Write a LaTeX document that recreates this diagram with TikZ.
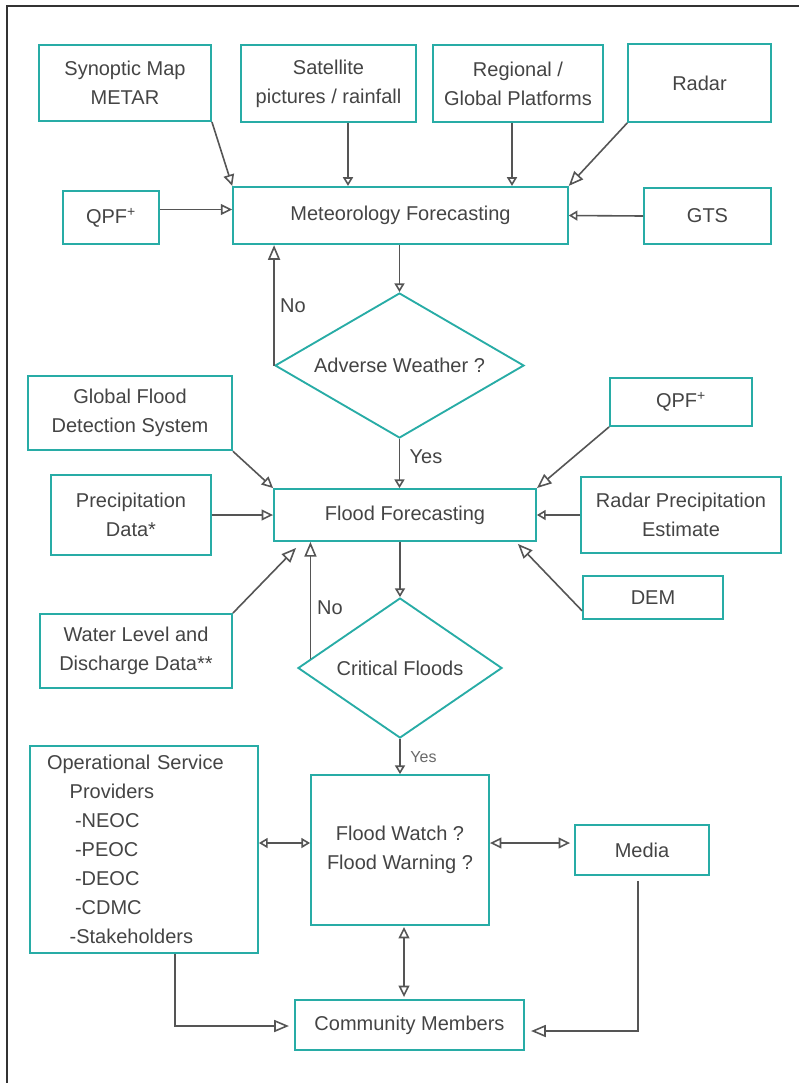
\documentclass[tikz,border=0pt]{standalone}
\usepackage{fontspec}
\setmainfont{Liberation Sans}
\usetikzlibrary{shapes,arrows.meta,positioning,calc}
\definecolor{floodteal}{RGB}{40,172,166}
\definecolor{floodtext}{RGB}{68,68,68}
\definecolor{floodline}{RGB}{85,85,85}

\tikzset{
  box/.style={draw=floodteal, line width=1.4pt, text=floodtext, align=center,
    inner sep=0pt, font=\fontsize{15pt}{21.75pt}\selectfont},
  decide/.style={box, diamond, aspect=1.6},
  conn/.style={draw=floodline, line width=1.2pt},
  arrs/.style={conn, -{Triangle[open, length=6.5pt, width=7.5pt]}},
  arrm/.style={conn, -{Triangle[open, length=8.5pt, width=8pt]}},
  arrl/.style={conn, -{Triangle[open, length=11pt, width=9pt]}},
  dbls/.style={conn, {Triangle[open, length=6.5pt, width=7.5pt]}-{Triangle[open, length=6.5pt, width=7.5pt]}},
  dblm/.style={conn, {Triangle[open, length=8.5pt, width=8pt]}-{Triangle[open, length=8.5pt, width=8pt]}},
  lbl/.style={text=floodtext, font=\fontsize{15pt}{18pt}\selectfont},
}

\begin{document}
\begin{tikzpicture}[x=0.75pt, y=-0.75pt]
    \useasboundingbox (0,0) rectangle (799,1083);
    % Frame
    \draw[black!80, line width=0.9pt] (7,1083) -- (7,6) -- (799,6);

    % Meteorology inputs
    \node[box, minimum width=129pt, minimum height=57pt] (syn) at (125,83) {Synoptic Map\\METAR};
    \node[box, minimum width=131pt, minimum height=58pt] (sat) at (328.5,83.5) {Satellite\\pictures / rainfall};
    \node[box, minimum width=127.5pt, minimum height=58pt] (reg) at (518,83.5) {Regional /\\Global Platforms};
    \node[box, minimum width=107pt, minimum height=58.5pt] (radar) at (699.5,83) {Radar};
    \node[box, minimum width=72pt, minimum height=40pt] (qpfa) at (111,217.5) {QPF\textsuperscript{+}};
    \node[box, minimum width=251pt, minimum height=43pt] (met) at (400.5,215.5) {Meteorology Forecasting};
    \node[box, minimum width=95pt, minimum height=42pt] (gts) at (707.5,216) {GTS};
    \node[decide, minimum width=186.75pt, minimum height=108.75pt] (adv) at (399.5,365.5) {Adverse Weather ?};

    % Flood inputs
    \node[box, minimum width=153pt, minimum height=56pt] (gfds) at (130,413) {Global Flood\\Detection System};
    \node[box, minimum width=106.5pt, minimum height=36pt] (qpfb) at (681,402) {QPF\textsuperscript{+}};
    \node[box, minimum width=120pt, minimum height=60pt] (pd) at (131,515) {Precipitation\\Data*};
    \node[box, minimum width=196.5pt, minimum height=39pt] (ff) at (405,515) {Flood Forecasting};
    \node[box, minimum width=150pt, minimum height=57pt] (rpe) at (681,515) {Radar Precipitation\\Estimate};
    \node[box, minimum width=105pt, minimum height=32pt] (dem) at (653,597.5) {DEM};
    \node[box, minimum width=144pt, minimum height=55.5pt] (wl) at (136,651) {Water Level and\\Discharge Data**};
    \node[decide, minimum width=153pt, minimum height=105pt] (crit) at (400,668) {Critical Floods};

    % Warning and dissemination
    \node[box, minimum width=171pt, minimum height=155pt, align=left, text width=145.5pt,
          inner xsep=12.75pt] (ops) at (144,849.5)
      {Operational Service\\\hspace*{17pt}Providers\\\hspace*{21pt}-NEOC\\\hspace*{21pt}-PEOC\\
       \hspace*{21pt}-DEOC\\\hspace*{21pt}-CDMC\\\hspace*{17pt}-Stakeholders};
    \node[box, minimum width=133.5pt, minimum height=112.5pt] (fw) at (400,850) {Flood Watch ?\\Flood Warning ?};
    \node[box, minimum width=100.5pt, minimum height=37.5pt] (media) at (642,850) {Media};
    \node[box, minimum width=172pt, minimum height=37.5pt] (comm) at (409.5,1025) {Community Members};

    % Meteorology connectors
    \draw[arrm] (syn.south east) -- (met.north west);
    \draw[arrs] ($(sat.south)+(19.5,0)$) -- ($(met.north)+(-52.5,0)$);
    \draw[arrs] ($(reg.south)+(-6,0)$) -- ($(met.north)+(111.5,0)$);
    \draw[arrl] (radar.south west) -- (met.north east);
    \draw[arrm] ($(qpfa.east)+(0,-8)$) -- ($(met.west)+(0,-6)$);
    \draw[arrs] (gts.west) -- (met.east);
    \draw[arrs] (adv.north |- met.south) -- (adv.north);
    \draw[arrl] (adv.west) -- (adv.west |- met.south);
    \node[lbl] (no1) at (293,306) {No};
    \draw[arrs] (adv.south) -- (adv.south |- ff.north);
    \node[lbl] (yes1) at (426,457) {Yes};

    % Flood connectors
    \draw[arrm] (gfds.south east) -- (ff.north west);
    \draw[arrm] (pd.east) -- (ff.west);
    \draw[arrl] (wl.north east) -- ($(ff.south west)+(23,6)$);
    \coordinate (critedge) at ($(crit.west)!0.13!(crit.north)$);
    \draw[arrl] (critedge) -- (critedge |- ff.south);
    \node[lbl] (no2) at (330,608) {No};
    \draw[arrs] (crit.north |- ff.south) -- (crit.north);
    \draw[arrl] (qpfb.south west) -- (ff.north east);
    \draw[arrs] (rpe.west) -- (ff.east);
    \draw[arrl] ($(dem.south west)+(0,-9)$) -- ($(ff.south east)+(-19,2)$);

    % Warning connectors
    \draw[arrs] (crit.south) -- (fw.north);
    \node[text=floodtext!80, font=\fontsize{12pt}{14pt}\selectfont] (yes2) at (423.5,757) {Yes};
    \draw[dbls] ($(ops.east)+(0,-6.5)$) -- ($(fw.west)+(0,-7)$);
    \draw[dblm] ($(fw.east)+(0,-7)$) -- ($(media.west)+(-4,-7)$);
    \draw[dblm] ($(fw.south)+(4,1)$) -- ($(comm.north)+(-5.5,-2)$);
    \draw[arrl] ($(ops.south)+(31,0)$) |- ($(comm.west)+(-5,1)$);
    \draw[arrl] ($(media.south)+(-4,5)$) |- ($(comm.east)+(6,6)$);
\end{tikzpicture}
\end{document}
